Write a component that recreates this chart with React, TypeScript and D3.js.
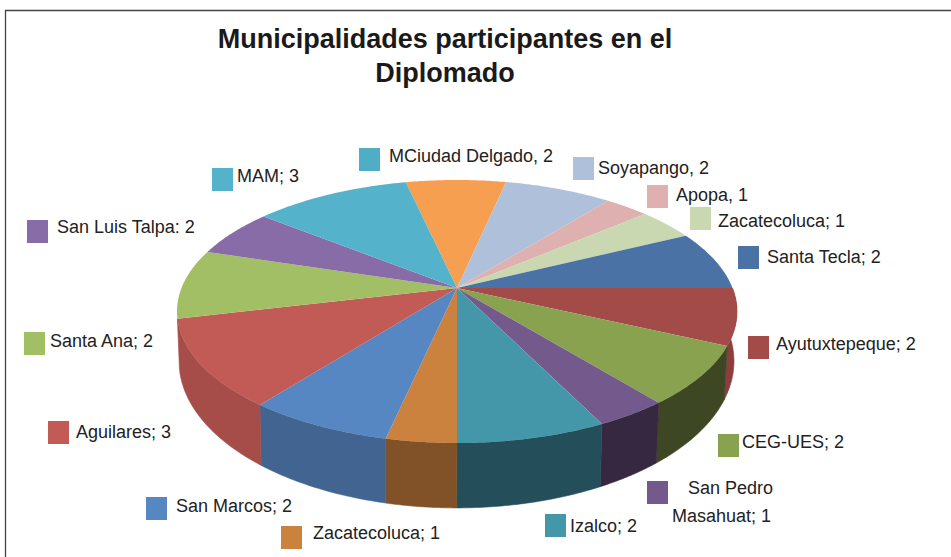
import React from "react";
import * as d3 from "d3";

const categories = ["MCiudad Delgado", "Soyapango", "Apopa", "Zacatecoluca", "Santa Tecla", "Ayutuxtepeque", "CEG-UES", "San Pedro Masahuat", "Izalco", "Zacatecoluca", "San Marcos", "Aguilares", "Santa Ana", "San Luis Talpa", "MAM"];
// Slice sizes (the labels round them to 1, 2 or 3).
const values = [1.92, 2.07, 0.85, 1.09, 2.05, 1.94, 2.02, 1.0, 2.04, 0.96, 1.99, 3.01, 2.39, 1.66, 3.01];
const topColors = ["#f79f51", "#afc0da", "#dfb0b0", "#c9d8b0", "#4a72a5", "#a34b48", "#88a250", "#745a8c", "#4496a9", "#cb823e", "#5787c2", "#c25a56", "#a3bf65", "#886ca7", "#55b2cb"];
const swatchColors = ["#4fadc6", "#afc0da", "#dfb0b0", "#c9d8b0", "#4a72a5", "#a34b48", "#88a250", "#745a8c", "#4496a9", "#cb823e", "#5787c2", "#c25a56", "#a3bf65", "#886ca7", "#55b2cb"];
const wallColors = ["#c47f40", "#8c99ae", "#b28c8c", "#a0ac8c", "#3b5b84", "#8b3e3c", "#3e4723", "#362840", "#244f5a", "#815228", "#426490", "#a64d49", "#82984f", "#6c5685", "#448ea2"];
const legendText = [["MCiudad Delgado, 2"], ["Soyapango, 2"], ["Apopa, 1"], ["Zacatecoluca; 1"], ["Santa Tecla; 2"], ["Ayutuxtepeque; 2"], ["CEG-UES; 2"], ["San Pedro", "Masahuat; 1"], ["Izalco; 2"], ["Zacatecoluca; 1"], ["San Marcos; 2"], ["Aguilares; 3"], ["Santa Ana; 2"], ["San Luis Talpa: 2"], ["MAM; 3"]];
const swatchPos = [[359, 148], [573, 157], [647, 185], [690, 207], [738, 246], [748, 336], [718, 434], [647, 481], [545, 514], [281, 526], [146, 497], [48, 421], [24, 332], [27, 220], [212, 168]];
const textPos = [[[389, 162]], [[598, 174]], [[676, 201]], [[718, 227]], [[767, 263]], [[776, 350]], [[742, 448]], [[688, 494], [672, 522]], [[570, 532]], [[313, 539]], [[176, 512]], [[76, 438]], [[50, 347]], [[57, 233]], [[237, 182]]];
const titleLines = ["Municipalidades participantes en el", "Diplomado"];

const k = 0.1787;
const top = { ax: 457, ay: 288, A: 275.5, B: 127.3 };
const bottom = { ax: 456.5, ay: 335, A: 273, B: 142 };
type Plane = typeof top;
const project = (p: Plane, a: number): [number, number] => {
  const u = Math.sin(a), v = -Math.cos(a), w = 1 - k * v;
  return [p.ax + (p.A * u) / w, p.ay + (p.B * v) / w];
};
const rim = (p: Plane, a0: number, a1: number) =>
  d3.range(0, 41).map((i) => project(p, a0 + ((a1 - a0) * i) / 40));
const line = d3.line();

export default function App() {
  const step = (2 * Math.PI) / d3.sum(values);
  const start = -0.98 * step;
  const arcs = d3.pie<number>().sort(null).startAngle(start).endAngle(2 * Math.PI + start)(values);
  const walls = arcs
    .map((d, i) => ({ d, i }))
    .filter(({ d }) => {
      const m = (d.startAngle + d.endAngle) / 2;
      return m > Math.PI / 2 - 0.1 && m < 1.5 * Math.PI;
    });
  return (
    <svg width={951} height={557} style={{ position: "absolute", left: 0, top: 0, background: "#fff" }} fontFamily="'Liberation Sans', Arial, sans-serif">
      <path d="M5.5 557V10.5H951" fill="none" stroke="#444" strokeWidth={1.3} />
      {titleLines.map((t, i) => (
        <text key={i} x={445} y={48 + i * 34} textAnchor="middle" fontSize={27} fontWeight="bold" fill="#1a1a1a">{t}</text>
      ))}
      {walls.map(({ d, i }) => (
        <path key={i} fill={wallColors[i]} stroke={wallColors[i]} strokeWidth={0.6} d={line([...rim(top, d.startAngle, d.endAngle), ...rim(bottom, d.endAngle, d.startAngle)])! + "Z"} />
      ))}
      {arcs.map((d, i) => (
        <path key={i} fill={topColors[i]} d={line([[top.ax, top.ay], ...rim(top, d.startAngle, d.endAngle)])! + "Z"} />
      ))}
      {categories.map((c, i) => (
        <g key={i} data-name={c}>
          <rect x={swatchPos[i][0]} y={swatchPos[i][1]} width={21} height={23} fill={swatchColors[i]} />
          {legendText[i].map((t, j) => (
            <text key={j} x={textPos[i][j][0]} y={textPos[i][j][1]} fontSize={18} fill="#222">{t}</text>
          ))}
        </g>
      ))}
    </svg>
  );
}
